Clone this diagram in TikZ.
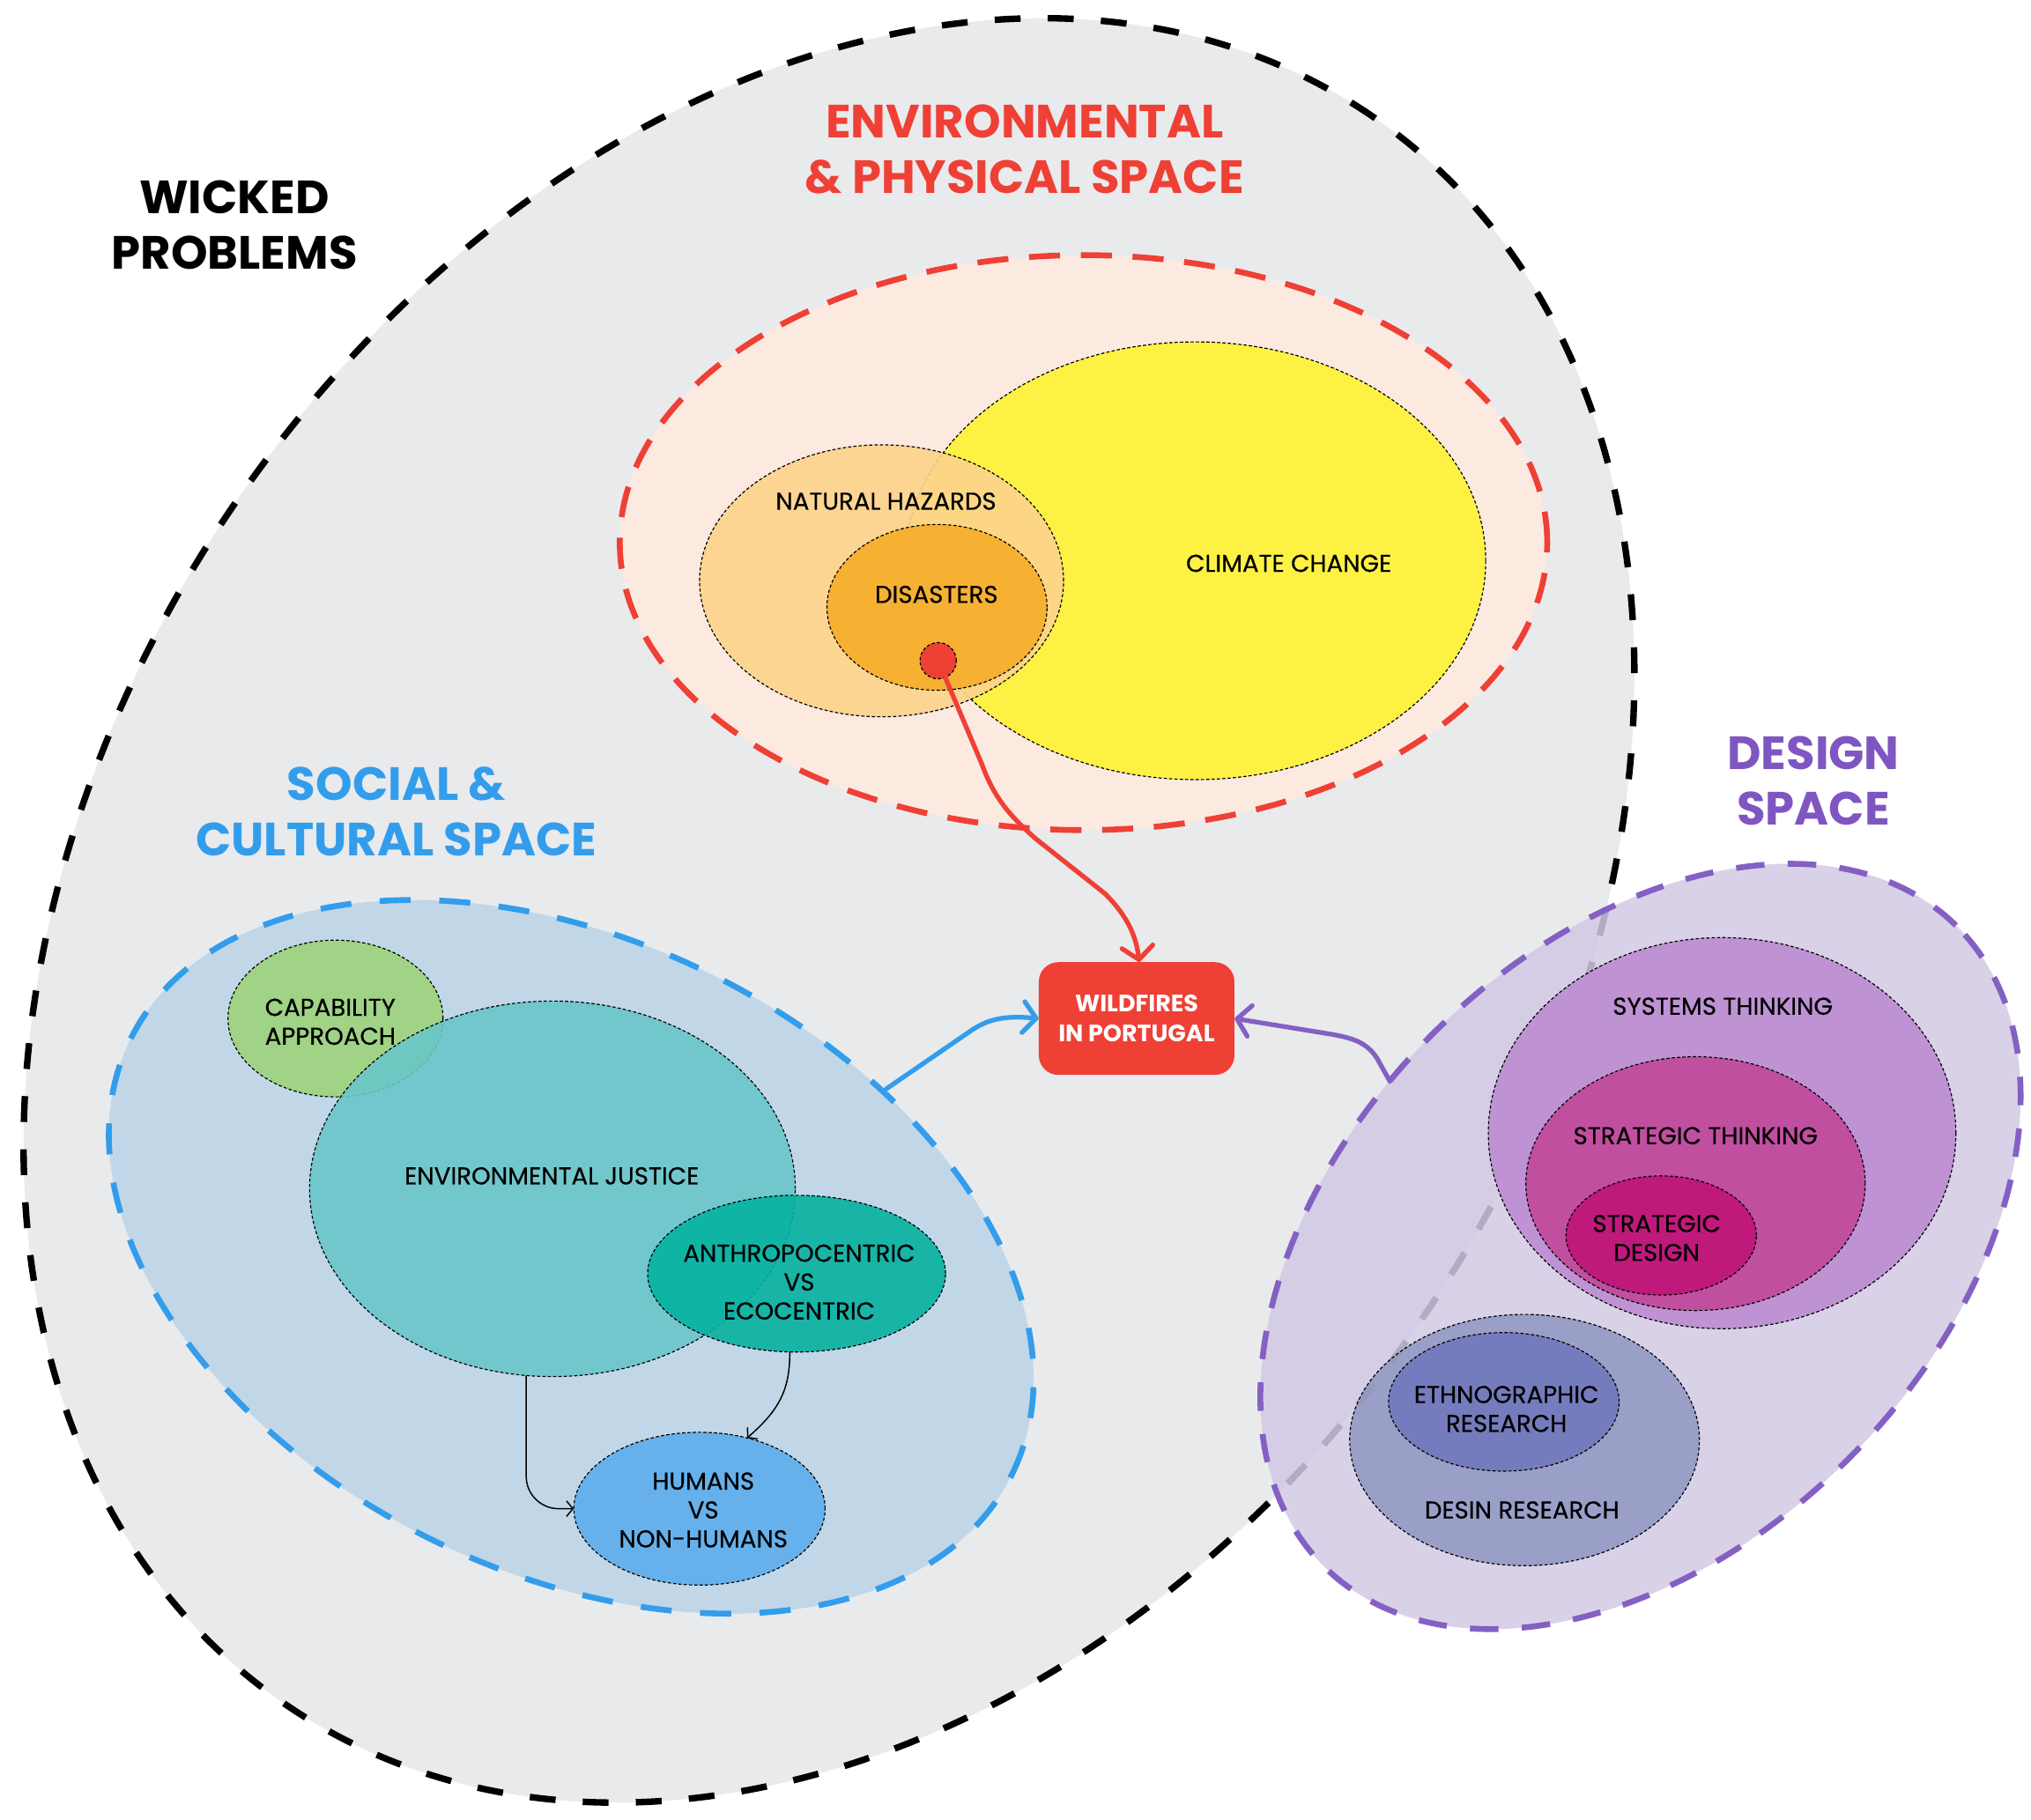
\documentclass[tikz,border=0pt]{standalone}
\usepackage{fontspec}
\setmainfont{Poppins}
\newfontfamily\medfont{Poppins}[FakeBold=0.4]
\usetikzlibrary{shapes.geometric,arrows.meta}
\definecolor{bggray}{RGB}{233,234,236}
\definecolor{wred}{RGB}{239,64,54}
\definecolor{peach}{RGB}{252,234,225}
\definecolor{cyellow}{RGB}{253,242,68}
\definecolor{nhaz}{RGB}{252,211,139}
\definecolor{disas}{RGB}{246,176,50}
\definecolor{wblue}{RGB}{51,157,236}
\definecolor{bluefill}{RGB}{193,215,231}
\definecolor{capgreen}{RGB}{160,211,133}
\definecolor{ejteal}{RGB}{105,198,200}
\definecolor{anteal}{RGB}{6,178,161}
\definecolor{humblue}{RGB}{102,177,236}
\definecolor{wpurple}{RGB}{133,96,195}
\definecolor{tpurple}{RGB}{127,86,193}
\definecolor{purfill}{RGB}{210,201,228}
\definecolor{systh}{RGB}{191,147,211}
\definecolor{strth}{RGB}{193,79,159}
\definecolor{strdes}{RGB}{192,25,124}
\definecolor{desres}{RGB}{143,151,194}
\definecolor{ethres}{RGB}{117,124,189}
\begin{document}
\begin{tikzpicture}[x=1pt,y=-1pt,
  region/.style={ellipse, inner sep=0pt, outer sep=0pt},
  thinb/.style={draw=black, line width=0.8pt, dash pattern=on 2.5pt off 1.6pt},
  lbl/.style={font=\medfont\fontsize{18.8}{22.3}\selectfont, align=center, inner sep=0pt, text=black},
  ttl/.style={font=\fontsize{36}{43}\selectfont\bfseries, align=center, inner sep=0pt},
  bigarrow/.style={line width=3.6pt, line cap=round, line join=round,
    -{Straight Barb[length=10pt,width=24pt,line cap=round,line join=round]}},
  thinarrow/.style={draw=black, line width=1pt,
    -{Straight Barb[length=5pt,width=12pt]}}
]
\useasboundingbox (0,0) rectangle (1568,1405.4);

% wicked problems
\node[region, draw=black, fill=bggray, line width=5pt, dash pattern=on 20pt off 21pt,
  minimum width=1486pt, minimum height=1112pt, rotate=55.6] (wicked) at (640,703) {};

% environmental & physical space
\node[region, draw=wred, fill=peach, line width=4.5pt, dash pattern=on 24pt off 16pt,
  minimum width=716pt, minimum height=444pt] (env) at (836.5,419) {};
\node[region, thinb, fill=cyellow, minimum width=448pt, minimum height=338pt] (cc) at (923,433) {};
\node[region, thinb, fill=nhaz, fill opacity=0.9, minimum width=281pt, minimum height=210pt] (nh) at (680.6,448.5) {};
\node[region, thinb, fill=disas, minimum width=170pt, minimum height=128pt] (dis) at (723.4,469) {};
\node[circle, thinb, fill=wred, inner sep=0pt, minimum size=28pt] (dot) at (724.3,510.2) {};

% social & cultural space
\node[region, draw=wblue, fill=bluefill, line width=4.5pt, dash pattern=on 24pt off 22pt,
  minimum width=759pt, minimum height=487pt, rotate=-26.3] (soc) at (441,970.5) {};
\node[region, thinb, fill=capgreen, minimum width=166pt, minimum height=121pt] (cap) at (259,786.5) {};
\node[region, thinb, fill=ejteal, fill opacity=0.9, minimum width=375pt, minimum height=290pt] (ej) at (426.5,918) {};
\node[region, thinb, fill=anteal, fill opacity=0.9, minimum width=230pt, minimum height=121pt] (an) at (615,983.5) {};
\node[region, thinb, fill=humblue, minimum width=194pt, minimum height=118pt] (hu) at (540,1165) {};

% design space
\node[region, draw=wpurple, fill=purfill, fill opacity=0.85, line width=4.5pt, dash pattern=on 22pt off 18pt,
  minimum width=695pt, minimum height=459pt, rotate=45.5] (des) at (1266.5,962.5) {};
\node[region, thinb, fill=systh, minimum width=361pt, minimum height=302pt] (st) at (1329.5,875) {};
\node[region, thinb, fill=strth, minimum width=262pt, minimum height=196pt] (sth) at (1309,914) {};
\node[region, thinb, fill=strdes, minimum width=147pt, minimum height=92pt] (sd) at (1282.5,954) {};
\node[region, thinb, fill=desres, fill opacity=0.85, minimum width=270pt, minimum height=194pt] (dr) at (1177,1112) {};
\node[region, thinb, fill=ethres, minimum width=178pt, minimum height=107pt] (er) at (1161,1082.5) {};

% central box
\node[rectangle, rounded corners=15pt, fill=wred, minimum width=151pt, minimum height=87pt,
  inner sep=0pt, text=white, align=center, font=\fontsize{18.3}{23}\selectfont\bfseries] (wf) at (877.5,786.5) {WILDFIRES\\IN PORTUGAL};

% connectors
\coordinate (bstart) at (684,841);
\coordinate (pstart) at (1073,835);
\draw[bigarrow, draw=wred] (dot) -- (758,590) .. controls (768,618) and (782,632) .. (800,648)
  -- (853,690) .. controls (870,707) and (877,722) .. ([xshift=2pt]wf.north);
\draw[bigarrow, draw=wblue] (bstart) -- (748,797) .. controls (762,787) and (775,784) .. (wf.west);
\draw[bigarrow, draw=wpurple] (pstart) -- (1063,817) .. controls (1055,805) and (1045,802) .. (1030,799) -- (wf.east);
\draw[thinarrow, rounded corners=25pt] (ej.262) |- (hu.west);
\draw[thinarrow] (an.265) .. controls (610,1075) and (600,1090) .. (hu.56);

% labels
\node[lbl] (tnh) at (684,387) {NATURAL HAZARDS};
\node[lbl] (tdis) at (723,459) {DISASTERS};
\node[lbl] (tcc) at (995,435) {CLIMATE CHANGE};
\node[lbl] (tcap) at (255,789) {CAPABILITY\\APPROACH};
\node[lbl] (tej) at (426,908) {ENVIRONMENTAL JUSTICE};
\node[lbl] (tan) at (617,990) {ANTHROPOCENTRIC\\VS\\ECOCENTRIC};
\node[lbl] (thu) at (543,1166) {HUMANS\\VS\\NON-HUMANS};
\node[lbl] (tst) at (1330,777) {SYSTEMS THINKING};
\node[lbl] (tsth) at (1309,877) {STRATEGIC THINKING};
\node[lbl] (tsd) at (1279,956) {STRATEGIC\\DESIGN};
\node[lbl] (ter) at (1163,1088) {ETHNOGRAPHIC\\RESEARCH};
\node[lbl] (tdr) at (1175,1166) {DESIN RESEARCH};

% titles
\node[ttl, text=black] (twp) at (181,173.5) {WICKED\\PROBLEMS};
\node[ttl, text=wred] (tenv) at (791,115.5) {ENVIRONMENTAL\\\& PHYSICAL SPACE};
\node[ttl, text=wblue] (tsoc) at (306,626.5) {SOCIAL \&\\CULTURAL SPACE};
\node[ttl, text=tpurple] (tdes) at (1400,603) {DESIGN\\SPACE};
\end{tikzpicture}
\end{document}
